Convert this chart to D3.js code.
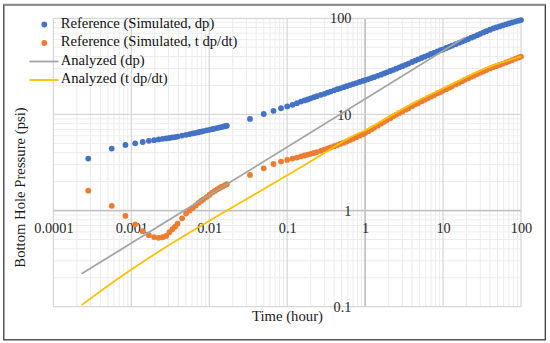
<!DOCTYPE html>
<html>
<head>
<meta charset="utf-8">
<script src="https://cdn.jsdelivr.net/npm/d3@7"></script>
<style>
  body { margin: 0; background: #fff; }
  svg text { font-family: "Liberation Serif", "Times New Roman", serif; }
</style>
</head>
<body>
<div id="chart"></div>
<script>
// early data: one point every 0.00028 h (some skipped where they overlap)
var earlyTime = [0.00028, 0.00056, 0.00084, 0.00112, 0.0014, 0.00168, 0.00196, 0.00224, 0.00252, 0.0028,
  0.00308, 0.00336, 0.00364, 0.00392, 0.00448, 0.00504, 0.0056, 0.00616, 0.00672, 0.00728,
  0.00784, 0.0084, 0.00924, 0.01008, 0.01092, 0.01176, 0.0126, 0.01344, 0.01428, 0.01512,
  0.01596, 0.0168];
var earlyDp = [3.47, 4.41, 4.82, 5.01, 5.17, 5.31, 5.40, 5.49, 5.57, 5.63,
  5.69, 5.76, 5.82, 5.89, 6.02, 6.14, 6.24, 6.34, 6.43, 6.53,
  6.62, 6.72, 6.83, 6.91, 7.02, 7.13, 7.21, 7.30, 7.38, 7.47,
  7.55, 7.63];
var earlyDeriv = [1.61, 1.12, 0.88, 0.72, 0.61, 0.555, 0.53, 0.52, 0.528, 0.545,
  0.595, 0.64, 0.68, 0.73, 0.83, 0.93, 1.00, 1.07, 1.13, 1.20,
  1.26, 1.31, 1.38, 1.46, 1.54, 1.60, 1.66, 1.71, 1.76, 1.80,
  1.84, 1.88];

// late data
var lateTime = [0.0333, 0.05, 0.0667, 0.0833, 0.1, 0.1167, 0.1333, 0.15, 0.1667, 0.1833, 0.2,
  0.22, 0.24, 0.27, 0.3, 0.33, 0.36, 0.4, 0.44, 0.48, 0.53, 0.58, 0.64, 0.7, 0.77, 0.85, 0.93,
  1.0, 1.1, 1.2, 1.3, 1.45, 1.6, 1.75, 1.9,
  2.1, 2.3, 2.5, 2.75, 3.0, 3.3, 3.6, 4.0, 4.4, 4.8, 5.3, 5.8, 6.4, 7.0, 7.7, 8.5, 9.3,
  10, 11, 12, 13, 14.5, 16, 17.5, 19,
  21, 23, 25, 27.5, 30, 33, 36, 40, 44, 48, 53, 58, 64, 70, 77, 85, 93,
  100];
var lateDp = [8.98, 10.1, 10.9, 11.6, 12.1, 12.6, 13.1, 13.6, 14.0, 14.3, 14.7,
  15.1, 15.5, 16.0, 16.4, 16.9, 17.3, 17.8, 18.3, 18.7, 19.2, 19.7, 20.2, 20.7, 21.2, 21.8, 22.3,
  22.7, 23.3, 23.9, 24.4, 25.2, 25.9, 26.7, 27.4,
  28.3, 29.1, 29.9, 30.9, 31.8, 32.8, 33.8, 35.1, 36.3, 37.4, 38.7, 39.9, 41.2, 42.5, 43.8, 45.2, 46.5,
  47.5, 49.1, 50.5, 51.9, 53.8, 55.6, 57.3, 58.9,
  60.8, 62.8, 64.6, 66.8, 68.9, 71.3, 73.5, 76.0, 78.5, 80.4, 82.4, 84.3, 86.5, 88.3, 90.4, 92.5, 94.4,
  95.9];
var lateDeriv = [2.35, 2.75, 3.05, 3.23, 3.36, 3.47, 3.56, 3.66, 3.74, 3.82, 3.89,
  3.97, 4.06, 4.18, 4.31, 4.42, 4.53, 4.67, 4.80, 4.93, 5.08, 5.23, 5.41, 5.58, 5.79, 6.01, 6.22,
  6.40, 6.70, 6.98, 7.26, 7.64, 8.02, 8.37, 8.71,
  9.14, 9.55, 9.93, 10.35, 10.75, 11.2, 11.6, 12.2, 12.7, 13.15, 13.7, 14.2, 14.8, 15.3, 15.9, 16.6, 17.1,
  17.7, 18.3, 19.0, 19.6, 20.5, 21.3, 22.1, 22.9,
  23.8, 24.6, 25.4, 26.3, 27.2, 28.1, 29.0, 30.1, 31.0, 31.8, 32.7, 33.6, 34.7, 35.6, 36.8, 38.0, 39.0,
  40.0];

// analyzed curves
var dpLineTime = [0.00023, 18.5];
var dpLineValue = [0.22, 62.3];
var derivLineTime = [0.00023, 0.00044, 0.3, 0.45, 0.6, 0.8, 1, 1.5, 2, 3, 4.5, 7, 10, 15, 20, 30, 44, 70, 100];
var derivLineValue = [0.104, 0.153, 3.97, 4.86, 5.6, 6.3, 6.8, 8.2, 9.4, 11.3, 13.6, 16.2, 18.6, 21.8, 24.5, 28.6, 32.4, 36.6, 40.2];

var xTicks = [0.0001, 0.001, 0.01, 0.1, 1, 10, 100];
var xTickLabels = ["0.0001", "0.001", "0.01", "0.1", "1", "10", "100"];
var yTicks = [0.1, 1, 10, 100];
var yTickLabels = ["0.1", "1", "10", "100"];

var legendNames = ["Reference (Simulated, dp)", "Reference (Simulated, t dp/dt)", "Analyzed (dp)", "Analyzed (t dp/dt)"];

var BLUE = "#4472c4";
var ORANGE = "#ed7d31";
var GRAY = "#a5a5a5";
var YELLOW = "#ffc000";
var DOT_R = 2.9;

var W = 550, H = 343;

var svg = d3.select("#chart")
  .append("svg")
  .attr("width", W)
  .attr("height", H);

svg.append("rect")
  .attr("width", W).attr("height", H)
  .style("fill", "#fff");

var x = d3.scaleLog().domain([0.0001, 100]).range([53.4, 521]);
var y = d3.scaleLog().domain([0.1, 100]).range([306.7, 18.3]);

var grid = svg.append("g");

// minor grid
grid.selectAll(".minor-x")
  .data(x.ticks().filter(function(d) { return xTicks.indexOf(d) < 0; }))
  .enter().append("line")
  .attr("x1", function(d) { return x(d); })
  .attr("x2", function(d) { return x(d); })
  .attr("y1", y(100)).attr("y2", y(0.1))
  .style("stroke", "#ececec").style("stroke-width", 1);

grid.selectAll(".minor-y")
  .data(y.ticks().filter(function(d) { return yTicks.indexOf(d) < 0; }))
  .enter().append("line")
  .attr("x1", x(0.0001)).attr("x2", x(100))
  .attr("y1", function(d) { return y(d); })
  .attr("y2", function(d) { return y(d); })
  .style("stroke", "#ececec").style("stroke-width", 1);

// major grid
grid.selectAll(".major-x")
  .data(xTicks)
  .enter().append("line")
  .attr("x1", function(d) { return x(d); })
  .attr("x2", function(d) { return x(d); })
  .attr("y1", y(100)).attr("y2", y(0.1))
  .style("stroke", function(d) { return d === 1 ? "#c4c4c4" : "#d6d6d6"; })
  .style("stroke-width", function(d) { return d === 1 ? 1.8 : 1.2; });

grid.selectAll(".major-y")
  .data(yTicks)
  .enter().append("line")
  .attr("x1", x(0.0001)).attr("x2", x(100))
  .attr("y1", function(d) { return y(d); })
  .attr("y2", function(d) { return y(d); })
  .style("stroke", function(d) { return d === 1 ? "#c4c4c4" : "#d6d6d6"; })
  .style("stroke-width", function(d) { return d === 1 ? 1.8 : 1.2; });

// axes cross at (1, 1)
var xAxis = svg.append("g")
  .attr("transform", "translate(0," + y(1) + ")")
  .call(d3.axisBottom(x).tickValues(xTicks)
    .tickFormat(function(d, i) { return xTickLabels[i]; })
    .tickSize(0).tickPadding(12.5));

var yAxis = svg.append("g")
  .attr("transform", "translate(" + x(1) + ",0)")
  .call(d3.axisLeft(y).tickValues(yTicks)
    .tickFormat(function(d, i) { return yTickLabels[i]; })
    .tickSize(0).tickPadding(13.7));

[xAxis, yAxis].forEach(function(a) {
  a.select(".domain").remove();
  a.selectAll("text")
    .style("font-family", "'Liberation Serif', serif")
    .style("font-size", "14.3px")
    .style("fill", "#262626");
});

// markers
var drawDots = function(times, values, color) {
  svg.append("g").selectAll("circle")
    .data(times)
    .enter().append("circle")
    .attr("cx", function(d) { return x(d); })
    .attr("cy", function(d, i) { return y(values[i]); })
    .attr("r", DOT_R)
    .style("fill", color);
};

drawDots(earlyTime, earlyDp, BLUE);
drawDots(lateTime, lateDp, BLUE);
drawDots(earlyTime, earlyDeriv, ORANGE);
drawDots(lateTime, lateDeriv, ORANGE);

var drawLine = function(times, values, color) {
  var line = d3.line()
    .curve(d3.curveMonotoneX)
    .x(function(d) { return x(d); })
    .y(function(d, i) { return y(values[i]); });
  svg.append("path")
    .datum(times)
    .attr("d", line)
    .style("fill", "none")
    .style("stroke", color)
    .style("stroke-width", 1.8);
};

drawLine(dpLineTime, dpLineValue, GRAY);
drawLine(derivLineTime, derivLineValue, YELLOW);

// axis titles
svg.append("text")
  .attr("x", 287.5).attr("y", 318)
  .attr("text-anchor", "middle")
  .attr("dominant-baseline", "middle")
  .style("font-size", "14.7px")
  .style("fill", "#1a1a1a")
  .text("Time (hour)");

svg.append("text")
  .attr("transform", "translate(22,187.5) rotate(-90)")
  .attr("text-anchor", "middle")
  .attr("dominant-baseline", "middle")
  .style("font-size", "14.7px")
  .style("fill", "#1a1a1a")
  .text("Bottom Hole Pressure (psi)");

// legend
var legendColors = [BLUE, ORANGE, GRAY, YELLOW];
var legend = svg.append("g");
legendNames.forEach(function(name, i) {
  var ly = 24.5 + i * 18.5;
  if (i < 2) {
    legend.append("circle")
      .attr("cx", 44.3).attr("cy", ly).attr("r", DOT_R)
      .style("fill", legendColors[i]);
  } else {
    legend.append("line")
      .attr("x1", 29.5).attr("x2", 58.5)
      .attr("y1", ly).attr("y2", ly)
      .style("stroke", legendColors[i])
      .style("stroke-width", 1.8);
  }
  legend.append("text")
    .attr("x", 60.7).attr("y", ly)
    .attr("dominant-baseline", "middle")
    .style("font-size", "14.6px")
    .style("fill", "#111")
    .text(name);
});

// frame around the picture
svg.append("rect")
  .attr("x", 3.8).attr("y", 4.8)
  .attr("width", 541.5).attr("height", 335)
  .style("fill", "none")
  .style("stroke", "#3a3a3a")
  .style("stroke-width", 1.3);
svg.append("line")
  .attr("x1", 3.8).attr("x2", 545.3)
  .attr("y1", 4.8).attr("y2", 4.8)
  .style("stroke", "#8c8c8c")
  .style("stroke-width", 2);
</script>
</body>
</html>
